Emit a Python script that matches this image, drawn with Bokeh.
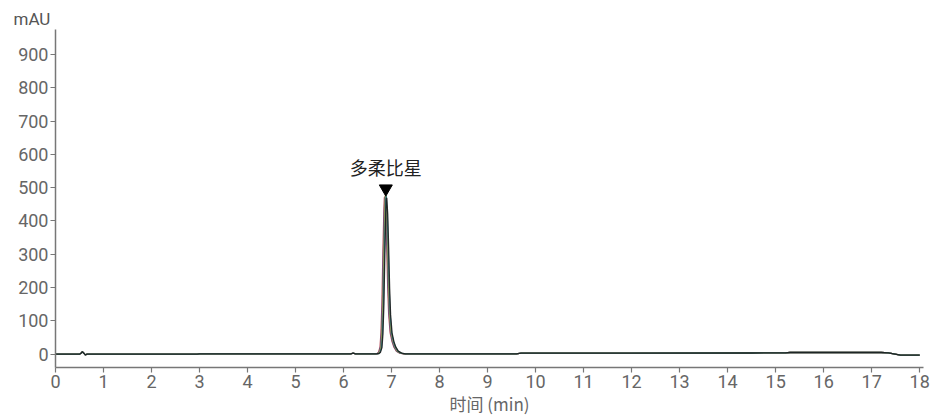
from bokeh.plotting import figure
from bokeh.models import Range1d, Label, FixedTicker, Title
from bokeh.embed import file_html
from bokeh.resources import INLINE

# ---- data ----
pre_t = [0.0, 0.50, 0.53, 0.56, 0.59, 0.62, 0.66, 1.0, 2.95, 3.0, 6.15, 6.20, 6.25, 6.60]
pre_y = [0.0, 0.0, 3.0, 7.0, 3.0, -2.0, 0.0, 0.0, 0.0, 1.0, 1.0, 3.0, 1.0, 1.0]

post_t = [7.30, 9.60, 9.70, 12.0, 14.5, 15.2, 15.3, 17.2, 17.35, 17.6, 18.0]
post_y = [1.0, 1.0, 3.0, 3.0, 3.5, 4.0, 5.0, 5.0, 4.0, -3.0, -3.0]

peak_t_1 = [6.65, 6.70, 6.73, 6.76, 6.78, 6.80, 6.82, 6.84, 6.85, 6.86, 6.88, 6.90, 6.92, 6.94, 6.97, 7.01, 7.05, 7.10, 7.17, 7.25]
peak_y_1 = [1, 2, 6, 22, 65, 155, 305, 430, 470, 472, 420, 320, 200, 120, 65, 38, 21, 9, 3, 1]

peak_t_2 = [6.65, 6.71, 6.74, 6.77, 6.79, 6.81, 6.83, 6.85, 6.86, 6.87, 6.89, 6.91, 6.93, 6.95, 6.98, 7.02, 7.06, 7.11, 7.18, 7.26]
peak_y_2 = [1, 2, 6, 21, 62, 150, 300, 428, 468, 474, 425, 325, 205, 122, 66, 38, 21, 9, 3, 1]

peak_t_3 = [6.66, 6.72, 6.75, 6.78, 6.80, 6.82, 6.84, 6.86, 6.87, 6.88, 6.90, 6.92, 6.94, 6.96, 6.99, 7.03, 7.07, 7.12, 7.19, 7.27]
peak_y_3 = [1, 2, 6, 21, 62, 152, 302, 432, 474, 480, 428, 322, 202, 121, 66, 39, 22, 9, 3, 1]

peak_t_4 = [6.67, 6.73, 6.76, 6.79, 6.81, 6.83, 6.85, 6.87, 6.88, 6.89, 6.91, 6.93, 6.95, 6.97, 7.00, 7.04, 7.08, 7.13, 7.20, 7.28]
peak_y_4 = [1, 2, 6, 20, 60, 148, 298, 426, 470, 476, 424, 320, 200, 120, 65, 38, 21, 9, 3, 1]

peak_t_5 = [6.68, 6.74, 6.77, 6.80, 6.82, 6.84, 6.86, 6.88, 6.89, 6.90, 6.92, 6.94, 6.96, 6.98, 7.01, 7.05, 7.09, 7.14, 7.21, 7.29]
peak_y_5 = [1, 2, 6, 20, 60, 148, 296, 424, 466, 470, 420, 318, 198, 118, 64, 37, 21, 9, 3, 1]

trace_colors = ["#b23a48", "#2f4f9a", "#c9a227", "#2a7f8f", "#1b1b1b"]

peak_name = "多柔比星"
peak_time = 6.88
peak_mark_y = 497

x_ticks = list(range(0, 19))
y_ticks = list(range(0, 1000, 100))

# ---- figure ----
p = figure(width=934, height=418, output_backend="svg", toolbar_location=None,
           x_range=Range1d(0, 18.08), y_range=Range1d(-40, 975),
           min_border_left=55, min_border_right=11, min_border_top=29, min_border_bottom=49)
p.outline_line_color = None
p.xgrid.visible = False
p.ygrid.visible = False
p.background_fill_color = "white"

peaks = [(peak_t_1, peak_y_1), (peak_t_2, peak_y_2), (peak_t_3, peak_y_3),
         (peak_t_4, peak_y_4), (peak_t_5, peak_y_5)]
for (pt, py), c in zip(peaks, trace_colors):
    xs = pre_t + pt + post_t
    ys = pre_y + py + post_y
    p.line(xs, ys, line_color=c, line_width=1.3, line_alpha=0.9)

p.scatter([peak_time], [peak_mark_y], marker="inverted_triangle", size=13,
          fill_color="black", line_color="black")
p.add_layout(Label(x=peak_time, y=peak_mark_y, text=peak_name, text_align="center",
                   text_baseline="bottom", y_offset=9, text_font="Noto Sans CJK SC",
                   text_font_size="18px", text_color="#222222"))

p.add_layout(Title(text="mAU", align="left", offset=-42, standoff=2,
                   text_font="Roboto", text_font_size="17px", text_font_style="normal",
                   text_color="#555555"), "above")

axis_gray = "#777777"
label_gray = "#666666"
for ax in (p.xaxis[0], p.yaxis[0]):
    ax.axis_line_color = axis_gray
    ax.axis_line_width = 1.5
    ax.major_tick_line_color = axis_gray
    ax.major_tick_line_width = 1.2
    ax.major_tick_out = 5
    ax.major_tick_in = 0
    ax.minor_tick_line_color = None
    ax.major_label_text_font = "Roboto"
    ax.major_label_text_font_size = "18px"
    ax.major_label_text_color = label_gray

p.xaxis.ticker = FixedTicker(ticks=x_ticks)
p.yaxis.ticker = FixedTicker(ticks=y_ticks)
p.xaxis.major_label_standoff = 2
p.yaxis.major_label_standoff = 2
p.xaxis.axis_label = "时间 (min)"
p.xaxis.axis_label_text_font = "Noto Sans CJK SC"
p.xaxis.axis_label_text_font_style = "normal"
p.xaxis.axis_label_text_font_size = "17px"
p.xaxis.axis_label_text_color = label_gray
p.xaxis.axis_label_standoff = 0

open("out.html", "w").write(file_html(p, INLINE))
